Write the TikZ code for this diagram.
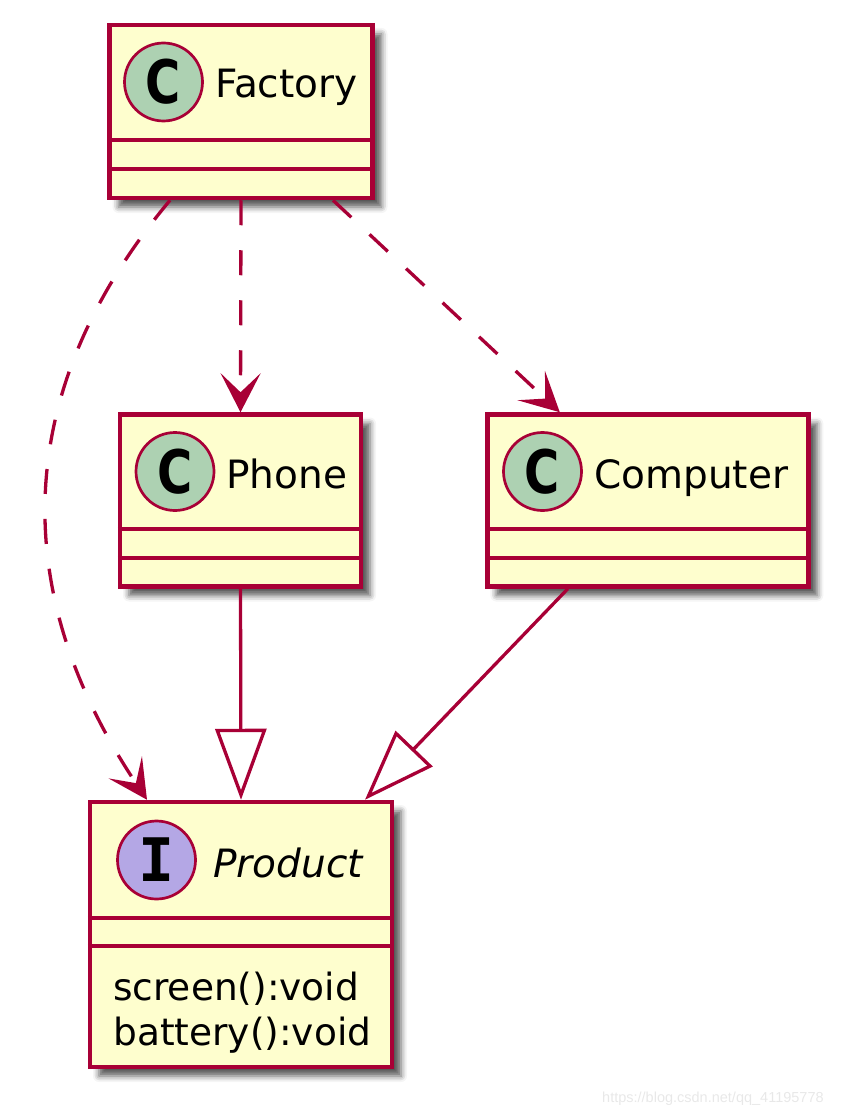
\documentclass[tikz,border=0pt]{standalone}
\usepackage{fontspec}
\setmainfont{DejaVu Sans}[ItalicFont={DejaVu Sans Oblique},BoldFont={DejaVu Sans Bold}]
\newfontfamily\spotmono{DejaVu Sans Mono Bold}
\newfontfamily\markfont{Liberation Sans}
\usetikzlibrary{arrows.meta,shadows.blur}
\definecolor{umlborder}{HTML}{A80036}
\definecolor{umlfill}{HTML}{FEFECE}
\definecolor{spotclass}{HTML}{ADD1B2}
\definecolor{spotiface}{HTML}{B4A7E5}

\begin{document}
\begin{tikzpicture}[x=1pt, y=-1pt,
    classbox/.style={rectangle, draw=umlborder, fill=umlfill, line width=4.5pt, inner sep=0pt,
        blur shadow={shadow xshift=9pt, shadow yshift=-9pt, shadow blur radius=6pt, shadow opacity=65}},
    sepline/.style={draw=umlborder, line width=4.5pt},
    spot/.style={circle, draw=umlborder, line width=2.7pt, minimum size=78pt, inner sep=0pt},
    spotletter/.style={font=\fontsize{60}{60}\bfseries},
    title/.style={anchor=base west, inner sep=0pt, font=\fontsize{39}{47}\selectfont},
    member/.style={anchor=base west, inner sep=0pt, font=\fontsize{37.5}{45}\selectfont},
    dep/.style={draw=umlborder, line width=3.3pt, dash pattern=on 25pt off 25pt,
        -{Stealth[length=39pt,width=40pt,inset=19pt]}},
    gen/.style={draw=umlborder, line width=3.3pt, -{Triangle[open,length=71pt,width=51pt]}}
]
    \useasboundingbox (0,0) rectangle (855,1115);

    % Factory
    \node[classbox, minimum width=263pt, minimum height=173pt] (factory) at (241,111.5) {};
    \draw[sepline] (factory.west |- 0,140) -- (factory.east |- 0,140);
    \draw[sepline] (factory.west |- 0,169) -- (factory.east |- 0,169);
    \node[spot, fill=spotclass, spotletter] (factoryspot) at (163.5,82) {\scalebox{.8}[1]{C}};
    \node[title] (factoryname) at (215,98) {Factory};

    % Phone
    \node[classbox, minimum width=241pt, minimum height=172pt] (phone) at (240.5,500.5) {};
    \draw[sepline] (phone.west |- 0,529) -- (phone.east |- 0,529);
    \draw[sepline] (phone.west |- 0,558) -- (phone.east |- 0,558);
    \node[spot, fill=spotclass, spotletter] (phonespot) at (175,471.5) {\scalebox{.8}[1]{C}};
    \node[title] (phonename) at (226,488) {Phone};

    % Computer
    \node[classbox, minimum width=321pt, minimum height=172pt] (computer) at (647.8,500.5) {};
    \draw[sepline] (computer.west |- 0,529) -- (computer.east |- 0,529);
    \draw[sepline] (computer.west |- 0,558) -- (computer.east |- 0,558);
    \node[spot, fill=spotclass, spotletter] (computerspot) at (542.5,471.5) {\scalebox{.8}[1]{C}};
    \node[title] (computername) at (594,488) {Computer};

    % Product
    \node[classbox, minimum width=302pt, minimum height=265pt] (product) at (241,934.5) {};
    \draw[sepline] (product.west |- 0,918) -- (product.east |- 0,918);
    \draw[sepline] (product.west |- 0,946) -- (product.east |- 0,946);
    \node[spot, fill=spotiface, font=\fontsize{60}{60}\spotmono] (productspot) at (156.5,860) {I};
    \node[title, font=\fontsize{39}{47}\itshape] (productname) at (213,877) {Product};
    \node[member] (screen) at (113,1000) {screen():void};
    \node[member] (battery) at (113,1045) {battery():void};

    % Relations
    \draw[dep] ([xshift=-71pt]factory.south) .. controls (20,380) and (0,580) .. ([xshift=-94pt]product.north);
    \draw[dep] (factory.south) -- (phone.north);
    \draw[dep] ([xshift=92pt]factory.south) -- ([xshift=-88pt]computer.north);
    \draw[gen] (phone.south) -- (product.north);
    \draw[gen] ([xshift=-80pt]computer.south) -- ([xshift=124pt]product.north);

    % Watermark
    \node[anchor=base west, inner sep=0pt, text=gray!18, font=\markfont\fontsize{14.5}{17}\selectfont] (mark) at (602,1102) {https://blog.csdn.net/qq\_41195778};
\end{tikzpicture}
\end{document}
